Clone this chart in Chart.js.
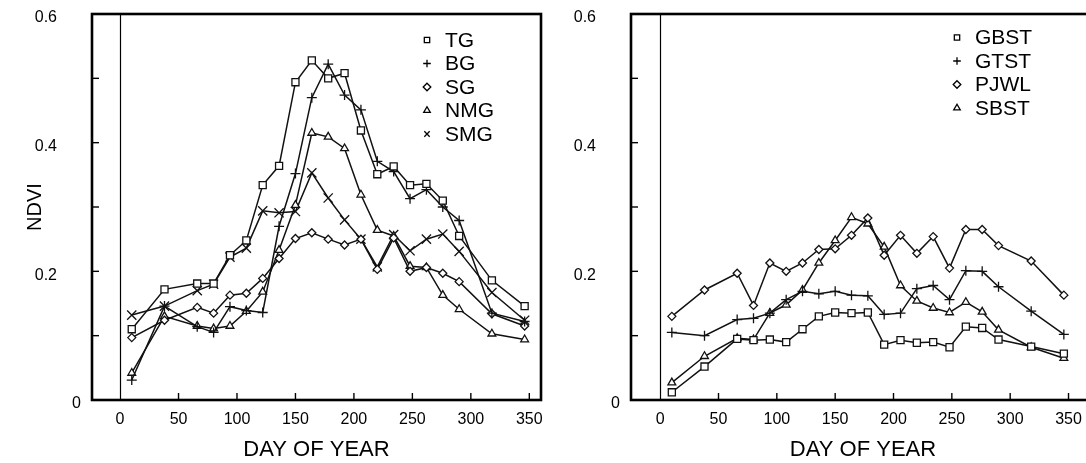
<!DOCTYPE html>
<html>
<head>
<meta charset="utf-8">
<script src="https://cdn.jsdelivr.net/npm/chart.js@4.4.0/dist/chart.umd.min.js"></script>
<style>
html, body { margin: 0; padding: 0; background: #fff; overflow: hidden; width: 1086px; height: 463px; }
.panel { position: absolute; top: 0; height: 463px; }
#leftBox  { left: 0;     width: 545px; }
#rightBox { left: 545px; width: 560px; }
</style>
</head>
<body>
<div id="leftBox" class="panel"><canvas id="leftChart"></canvas></div>
<div id="rightBox" class="panel"><canvas id="rightChart"></canvas></div>
<script>
'use strict';

const FONT = '"Liberation Sans", Arial, Helvetica, sans-serif';

// ── Data ─────────────────────────────────────────────────────
const days = [10, 38, 66, 80, 94, 108, 122, 136, 150, 164, 178, 192, 206, 220, 234, 248, 262, 276, 290, 318, 346];

const tg   = [0.110, 0.172, 0.181, 0.181, 0.225, 0.248, 0.334, 0.364, 0.494, 0.528, 0.500, 0.508, 0.419, 0.351, 0.363, 0.334, 0.336, 0.310, 0.255, 0.186, 0.146];
const bg   = [0.031, 0.146, 0.114, 0.105, 0.145, 0.139, 0.136, 0.270, 0.352, 0.470, 0.522, 0.474, 0.451, 0.371, 0.355, 0.313, 0.327, 0.300, 0.279, 0.135, 0.122];
const sg   = [0.097, 0.124, 0.144, 0.135, 0.163, 0.166, 0.189, 0.220, 0.251, 0.260, 0.250, 0.241, 0.250, 0.203, 0.252, 0.200, 0.206, 0.197, 0.184, 0.134, 0.115];
const nmg  = [0.042, 0.130, 0.115, 0.111, 0.115, 0.138, 0.168, 0.233, 0.303, 0.415, 0.409, 0.391, 0.319, 0.264, 0.255, 0.208, 0.206, 0.163, 0.141, 0.103, 0.094];
const smg  = [0.132, 0.146, 0.170, 0.180, 0.222, 0.236, 0.294, 0.291, 0.293, 0.353, 0.314, 0.280, 0.250, 0.207, 0.257, 0.232, 0.250, 0.258, 0.231, 0.167, 0.124];

const gbst = [0.012, 0.052, 0.095, 0.093, 0.094, 0.090, 0.110, 0.130, 0.136, 0.135, 0.136, 0.086, 0.093, 0.089, 0.090, 0.082, 0.114, 0.112, 0.094, 0.083, 0.072];
const gtst = [0.105, 0.100, 0.125, 0.127, 0.135, 0.156, 0.169, 0.165, 0.169, 0.163, 0.162, 0.133, 0.135, 0.173, 0.178, 0.156, 0.201, 0.200, 0.176, 0.138, 0.102];
const pjwl = [0.130, 0.171, 0.197, 0.147, 0.213, 0.200, 0.213, 0.234, 0.235, 0.256, 0.283, 0.225, 0.256, 0.228, 0.254, 0.205, 0.265, 0.265, 0.240, 0.216, 0.163];
const sbst = [0.027, 0.068, 0.096, 0.094, 0.135, 0.148, 0.171, 0.213, 0.248, 0.284, 0.274, 0.238, 0.178, 0.154, 0.143, 0.136, 0.152, 0.137, 0.109, 0.082, 0.065];

const xTicks      = [0, 50, 100, 150, 200, 250, 300, 350];
const yTicks      = [0, 0.1, 0.2, 0.3, 0.4, 0.5, 0.6];
const yLabelVals  = [0, 0.2, 0.4, 0.6];

// marker shape + radius per series
const marks = {
    TG:   ['rect', 5],   BG:   ['cross', 5],  SG:   ['rectRot', 4],
    NMG:  ['triangle', 4.5], SMG: ['crossRot', 6.5],
    GBST: ['rect', 5],   GTST: ['cross', 5],  PJWL: ['rectRot', 4], SBST: ['triangle', 4.5]
};

function makeSet(label, values) {
    const [style, r] = marks[label];
    return {
        label,
        data: values.map((v, i) => ({ x: days[i], y: v })),
        borderColor: '#111', backgroundColor: '#fff', borderWidth: 1.5,
        pointStyle: style, pointRadius: r, pointBackgroundColor: '#fff',
        pointBorderColor: '#111', pointBorderWidth: 1.3, tension: 0
    };
}

function fmtY(v) { return v === 0 ? '0' : v.toFixed(1); }

// ── Plugins: boxed frame with inward ticks, in-plot legend ───
const framePlugin = {
    id: 'frame',
    beforeDatasetsDraw(chart) {
        const { ctx, chartArea: a, scales: { x, y } } = chart;
        ctx.save();
        ctx.strokeStyle = '#000';

        const x0 = Math.round(x.getPixelForValue(0)) + 0.5;
        ctx.lineWidth = 1.2;
        ctx.beginPath(); ctx.moveTo(x0, a.top); ctx.lineTo(x0, a.bottom); ctx.stroke();

        ctx.lineWidth = 1.4;
        xTicks.forEach(v => {
            if (v === 0) return;
            const px = x.getPixelForValue(v);
            ctx.beginPath(); ctx.moveTo(px, a.bottom); ctx.lineTo(px, a.bottom - 7); ctx.stroke();
        });
        yTicks.forEach(v => {
            const py = y.getPixelForValue(v);
            ctx.beginPath(); ctx.moveTo(a.left, py); ctx.lineTo(a.left + 7, py); ctx.stroke();
        });

        ctx.lineWidth = 2.6;
        ctx.strokeRect(a.left, a.top, a.right - a.left, a.bottom - a.top);

        ctx.fillStyle = '#000';
        ctx.font = '16px ' + FONT;
        ctx.textAlign = 'right';
        ctx.textBaseline = 'middle';
        yLabelVals.forEach(v => {
            const gap = v === 0 ? 11 : 35;
            ctx.fillText(fmtY(v), a.left - gap, y.getPixelForValue(v) + 4);
        });
        ctx.restore();
    }
};

const legendPlugin = {
    id: 'markLegend',
    afterDraw(chart, args, opts) {
        const { ctx, chartArea: a } = chart;
        ctx.save();
        ctx.font = '21px ' + FONT;
        ctx.textBaseline = 'middle';
        ctx.textAlign = 'left';
        chart.data.datasets.forEach((ds, i) => {
            const yy = opts.top + i * opts.step;
            const xx = a.left + opts.offset;
            ctx.fillStyle = '#fff'; ctx.strokeStyle = '#000'; ctx.lineWidth = 1.3;
            Chart.helpers.drawPoint(ctx, { pointStyle: ds.pointStyle, radius: 3.8, borderWidth: 1.3, rotation: 0 }, xx, yy);
            ctx.fillStyle = '#000';
            ctx.fillText(ds.label, xx + 18, yy + 1);
        });
        ctx.restore();
    }
};

function buildChart(canvasId, sets, cfg) {
    return new Chart(document.getElementById(canvasId).getContext('2d'), {
        type: 'line',
        data: { datasets: sets },
        plugins: [framePlugin, legendPlugin],
        options: {
            responsive: true, maintainAspectRatio: false, animation: false,
            layout: { autoPadding: false, padding: { top: 14, left: 0, right: cfg.padRight, bottom: 0 } },
            plugins: {
                legend: { display: false }, tooltip: { enabled: false },
                markLegend: cfg.legend
            },
            scales: {
                x: {
                    type: 'linear', min: cfg.xMin, max: cfg.xMax,
                    afterBuildTicks: s => { s.ticks = xTicks.map(v => ({ value: v })); },
                    afterFit: s => { s.height = 63; s.paddingLeft = 0; s.paddingRight = 0; },
                    grid: { display: false, drawTicks: false },
                    border: { display: false },
                    ticks: { font: { size: 16, family: FONT }, color: '#000', padding: 10, maxRotation: 0, autoSkip: false },
                    title: { display: true, text: 'DAY OF YEAR', color: '#000', font: { size: 22, family: FONT }, padding: { top: 4, bottom: 0 } }
                },
                y: {
                    min: 0, max: 0.6,
                    afterFit: s => { s.width = cfg.yWidth; s.paddingTop = 0; s.paddingBottom = 0; },
                    grid: { display: false, drawTicks: false },
                    border: { display: false },
                    ticks: { display: false },
                    title: { display: cfg.yTitle, text: 'NDVI', color: '#000', font: { size: 20, family: FONT }, padding: { top: 23 } }
                }
            }
        }
    });
}

buildChart('leftChart',
    [makeSet('TG', tg), makeSet('BG', bg), makeSet('SG', sg), makeSet('NMG', nmg), makeSet('SMG', smg)],
    { xMin: -24, xMax: 360, padRight: 4, yWidth: 92, yTitle: true, legend: { offset: 335, top: 40, step: 23.5 } });

buildChart('rightChart',
    [makeSet('GBST', gbst), makeSet('GTST', gtst), makeSet('PJWL', pjwl), makeSet('SBST', sbst)],
    { xMin: -25, xMax: 372.7, padRight: 10, yWidth: 86, yTitle: false, legend: { offset: 326, top: 37.5, step: 23.5 } });
</script>
</body>
</html>
